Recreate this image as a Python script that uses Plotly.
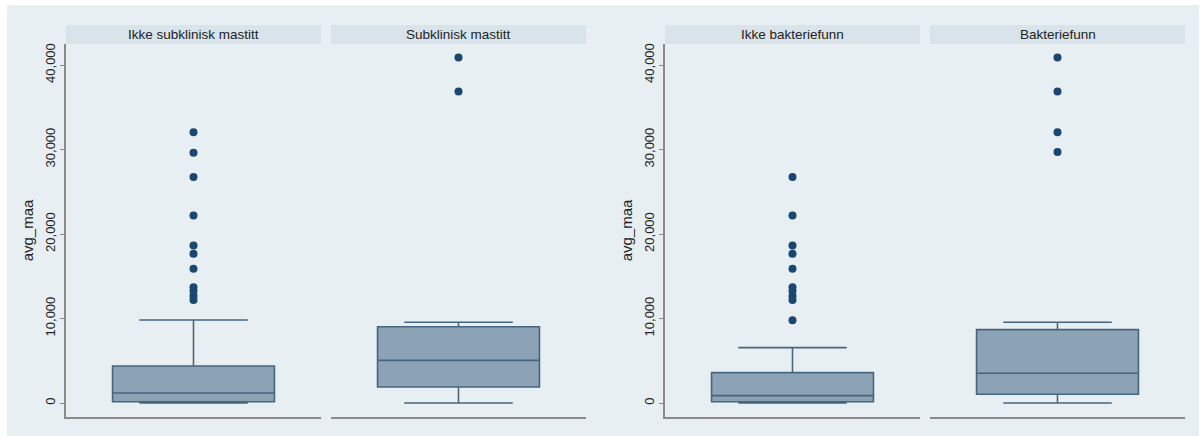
import plotly.graph_objects as go

# ---- data ----
panel_titles = ["Ikke subklinisk mastitt", "Subklinisk mastitt", "Ikke bakteriefunn", "Bakteriefunn"]
lower_fence = [0, 0, 0, 0]
q1_vals = [150, 1890, 150, 1030]
median_vals = [1180, 5050, 870, 3520]
q3_vals = [4380, 9030, 3590, 8680]
upper_fence = [9820, 9550, 6550, 9550]
outliers_1 = [32035, 29620, 26750, 22200, 18650, 17650, 15900, 13700, 13250, 12650, 12200]
outliers_2 = [40900, 36850]
outliers_3 = [26750, 22200, 18650, 17650, 15900, 13700, 13250, 12650, 12200, 9800]
outliers_4 = [40900, 36850, 32035, 29700]
outliers = [outliers_1, outliers_2, outliers_3, outliers_4]
y_ticks = [0, 10000, 20000, 30000, 40000]
y_title = "avg_maa"

# ---- layout geometry (pixels) ----
W, H = 1200, 436
panel_px = [(66, 321), (331, 586), (665, 920), (930, 1185)]
plot_top, plot_bottom = 44, 417
strip_top = 25

BOX_FILL = "#8ca2b5"
BOX_LINE = "#46657f"
DOT = "#1a476f"
BG = "#e8eff2"
STRIP = "#d9e4ea"
GRID = "#e9f0f2"
AXIS = "#8a8a8a"
FONT = "Liberation Sans, Arial, sans-serif"

fig = go.Figure()

# graph region background (first, so strips draw over it)
fig.add_shape(type="rect", xref="paper", yref="paper", x0=7 / W, x1=1199 / W,
              y0=0, y1=1 - 5 / H, fillcolor=BG, line=dict(width=0), layer="below")

ydom = [1 - plot_bottom / H, 1 - plot_top / H]

for i in range(4):
    n = "" if i == 0 else str(i + 1)
    xa, ya = "x" + n, "y" + n
    cat = panel_titles[i]
    fig.add_trace(go.Box(
        x=[cat], lowerfence=[lower_fence[i]], q1=[q1_vals[i]], median=[median_vals[i]],
        q3=[q3_vals[i]], upperfence=[upper_fence[i]],
        fillcolor=BOX_FILL, line=dict(color=BOX_LINE, width=1.6),
        width=0.635, whiskerwidth=0.67, boxpoints=False, showlegend=False,
        hoverinfo="skip", xaxis=xa, yaxis=ya,
    ))
    fig.add_trace(go.Scatter(
        x=[cat] * len(outliers[i]), y=outliers[i], mode="markers",
        marker=dict(color=DOT, size=8), showlegend=False, hoverinfo="skip",
        xaxis=xa, yaxis=ya,
    ))
    x0, x1 = panel_px[i]
    dom = [x0 / W, x1 / W]
    show_y = i in (0, 2)
    fig.update_layout(**{
        "xaxis" + n: dict(domain=dom, anchor=ya, type="category", range=[-0.5, 0.5],
                          showticklabels=False, ticks="", showgrid=False, zeroline=False,
                          showline=True, linecolor=AXIS, linewidth=1.5, fixedrange=True),
        "yaxis" + n: dict(domain=ydom, anchor=xa, range=[-1657, 42485],
                          tickvals=y_ticks, tickformat=",d", tickangle=-90,
                          showticklabels=show_y, ticks="outside" if show_y else "",
                          ticklen=4, tickcolor=AXIS, tickwidth=1,
                          showgrid=True, gridcolor=GRID, gridwidth=2, zeroline=False,
                          showline=show_y, linecolor=AXIS, linewidth=1.5,
                          tickfont=dict(size=13, color="#222", family=FONT),
                          title=dict(text=y_title if show_y else "", standoff=6,
                                     font=dict(size=15, color="#222", family=FONT))),
    })
    # strip header
    fig.add_shape(type="rect", xref="paper", yref="paper",
                  x0=x0 / W, x1=x1 / W, y0=1 - plot_top / H, y1=1 - strip_top / H,
                  fillcolor=STRIP, line=dict(width=0), layer="below")
    fig.add_annotation(xref="paper", yref="paper", x=(x0 + x1) / 2 / W,
                       y=1 - (strip_top + plot_top) / 2 / H, text=cat, showarrow=False,
                       font=dict(size=13.5, color="#222", family=FONT),
                       xanchor="center", yanchor="middle")

fig.update_layout(width=W, height=H, margin=dict(l=0, r=0, t=0, b=0),
                  paper_bgcolor="white", plot_bgcolor="white",
                  font=dict(family=FONT))

fig.write_html("out.html")
